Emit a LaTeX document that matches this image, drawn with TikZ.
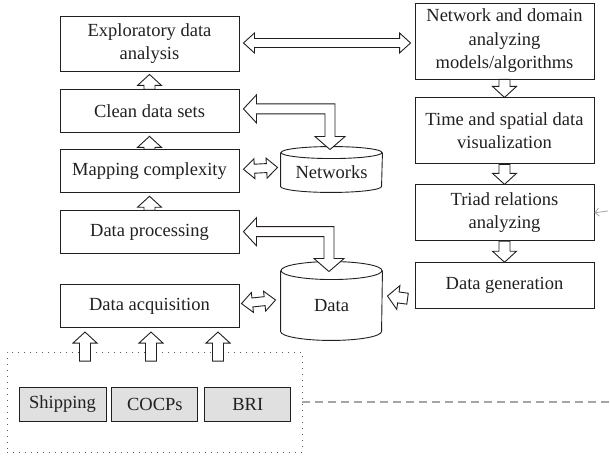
\documentclass[tikz,border=0pt]{standalone}
\usepackage{fontspec}
\setmainfont{Liberation Serif}
\usetikzlibrary{positioning, calc, arrows.meta}
\definecolor{clText}  {RGB}{ 35, 31, 32}
\definecolor{clSource}{RGB}{224,224,224}
\definecolor{clDash}  {RGB}{165,165,165}
\definecolor{clDots}  {RGB}{ 90, 90, 90}
\tikzset{
  base/.style={
    align=center, font=\fontsize{18.5}{23.5}\selectfont,
    text=clText, draw=clText, line width=0.9pt, inner sep=2pt
  },
  stage/.style={
    base, rectangle, minimum width=179pt
  },
  store/.style={
    base, draw=none, minimum width=101pt
  },
  source/.style={
    base, rectangle, fill=clSource, minimum height=34pt
  },
  group/.style={
    draw=clDots, line width=0.9pt, dash pattern=on 1pt off 5pt,
    minimum width=295pt, minimum height=100pt
  },
  drumline/.style={
    draw=clText, line width=0.9pt
  },
  fat/.style={
    draw=clText, fill=white, line width=0.9pt, line join=miter
  },
  feed/.style={
    draw=clDash, line width=1.1pt, dash pattern=on 8pt off 5pt
  },
  feedarr/.style={
    -{Straight Barb[length=4pt, width=8pt]},
    draw=clDash, line width=0.8pt
  }
}
% hollow block arrow: tail, tip
\newcommand{\fatarrow}[2]{%
  \coordinate (fa-t) at #1;
  \coordinate (fa-h) at #2;
  \coordinate (fa-b) at ($(fa-h)!11pt!(fa-t)$);
  \draw[fat] ($(fa-t)!5.5pt!90:(fa-h)$) -- ($(fa-b)!5.5pt!90:(fa-h)$)
    -- ($(fa-b)!12pt!90:(fa-h)$) -- (fa-h) -- ($(fa-b)!12pt!-90:(fa-h)$)
    -- ($(fa-b)!5.5pt!-90:(fa-h)$) -- ($(fa-t)!5.5pt!-90:(fa-h)$) -- cycle;
}
% hollow block arrow with two heads
\newcommand{\fatdouble}[2]{%
  \coordinate (fd-a) at #1;
  \coordinate (fd-b) at #2;
  \coordinate (fd-ab) at ($(fd-a)!11pt!(fd-b)$);
  \coordinate (fd-ba) at ($(fd-b)!11pt!(fd-a)$);
  \draw[fat] (fd-a) -- ($(fd-ab)!10pt!90:(fd-b)$) -- ($(fd-ab)!4.5pt!90:(fd-b)$)
    -- ($(fd-ba)!4.5pt!90:(fd-b)$) -- ($(fd-ba)!10pt!90:(fd-b)$) -- (fd-b)
    -- ($(fd-ba)!10pt!-90:(fd-b)$) -- ($(fd-ba)!4.5pt!-90:(fd-b)$)
    -- ($(fd-ab)!4.5pt!-90:(fd-b)$) -- ($(fd-ab)!10pt!-90:(fd-b)$) -- cycle;
}
% bent block arrow: left tip, down tip
\newcommand{\fatbend}[2]{%
  \coordinate (fb-l) at #1;
  \coordinate (fb-d) at #2;
  \draw[fat] let \p1=(fb-l), \p2=(fb-d) in
    (\p1) -- (\x1+13pt,\y1+14pt) -- (\x1+13pt,\y1+5pt) -- (\x2+5pt,\y1+5pt)
    -- (\x2+5pt,\y2+13pt) -- (\x2+15pt,\y2+13pt) -- (\p2) -- (\x2-15pt,\y2+13pt)
    -- (\x2-5pt,\y2+13pt) -- (\x2-5pt,\y1-5pt) -- (\x1+13pt,\y1-5pt)
    -- (\x1+13pt,\y1-14pt) -- cycle;
}
% cylinder round a store node: node, y radius
\newcommand{\drum}[2]{%
  \draw[drumline] (#1.north west) -- ($(#1.south west)+(0pt,#2)$)
    arc[start angle=180, end angle=360, x radius=50.5pt, y radius=#2]
    -- (#1.north east);
  \draw[drumline] (#1.north) ellipse [x radius=50.5pt, y radius=#2];
}

\begin{document}
\begin{tikzpicture}[x=1pt, y=1pt]
  \useasboundingbox (0,0) rectangle (610,458);

  % left column
  \node (explore) [stage, minimum height=55pt] at (149.5,414.5) {Exploratory data\\analysis};
  \node (clean) [stage, minimum height=43pt, below=18pt of explore] {Clean data sets};
  \node (mapping) [stage, minimum height=43pt, below=16pt of clean] {Mapping complexity};
  \node (processing) [stage, minimum height=43pt, below=17pt of mapping] {Data processing};
  \node (acquisition) [stage, minimum height=43pt, below=30pt of processing] {Data acquisition};

  % right column
  \node (network) [stage, minimum height=76pt] at (504.5,417) {Network and domain\\analyzing\\models/algorithms};
  \node (time) [stage, minimum height=66pt, below=18pt of network] {Time and spatial data\\visualization};
  \node (triad) [stage, minimum height=56pt, below=20pt of time] {Triad relations\\analyzing};
  \node (datagen) [stage, minimum height=46pt, below=21pt of triad] {Data generation};

  % stores
  \node (networks) [store, minimum height=39pt] at (331.5,285.5) {Networks};
  \node (data) [store, minimum height=69pt] at (331.5,152.5) {Data};
  \drum{networks}{6pt}
  \drum{data}{9pt}

  % sources
  \node (sources) [group] at (154.5,56) {};
  \node (shipping) [source, minimum width=87pt] at (62.5,54) {Shipping};
  \node (cocps) [source, minimum width=86pt, right=5pt of shipping] {COCPs};
  \node (bri) [source, minimum width=86pt, right=6pt of cocps] {BRI};

  % two-way links
  \fatdouble{($(explore.east)+(4pt,0.5pt)$)}{($(network.west)+(-4pt,-2pt)$)}
  \fatdouble{($(mapping.east)+(4pt,2pt)$)}{($(networks.west)+(-3pt,5pt)$)}
  \fatdouble{($(acquisition.east)+(2pt,2.5pt)$)}{($(data.west)+(-5pt,5.5pt)$)}
  \fatbend{($(clean.east)+(4pt,2.5pt)$)}{($(networks.north)+(-1.5pt,3pt)$)}
  \fatbend{($(processing.east)+(4pt,0.5pt)$)}{($(data.north)+(-2.5pt,-1pt)$)}

  % up the left column
  \fatarrow{(clean.north)}{($(explore.south)+(0pt,-3pt)$)}
  \fatarrow{(mapping.north)}{($(clean.south)+(0pt,-3pt)$)}
  \fatarrow{(processing.north)}{($(mapping.south)+(0pt,-3pt)$)}

  % down the right column
  \fatarrow{(network.south)}{(time.north)}
  \fatarrow{(time.south)}{(triad.north)}
  \fatarrow{(triad.south)}{(datagen.north)}
  \fatarrow{($(datagen.west)+(-7pt,-13pt)$)}{($(data.east)+(5pt,9.5pt)$)}

  % sources into acquisition
  \foreach \dx in {-64.5, 1.5, 68.5} {
    \fatarrow{($(acquisition.south)+(\dx pt,-33pt)$)}{($(acquisition.south)+(\dx pt,-4pt)$)}
  }

  % feedback, cut at the edge
  \coordinate (feedR) at (610,56);
  \draw[feed] (sources.east) -- (feedR);
  \coordinate (feedT) at (608,247);
  \draw[feedarr] (feedT) -- (triad.east);

\end{tikzpicture}
\end{document}
